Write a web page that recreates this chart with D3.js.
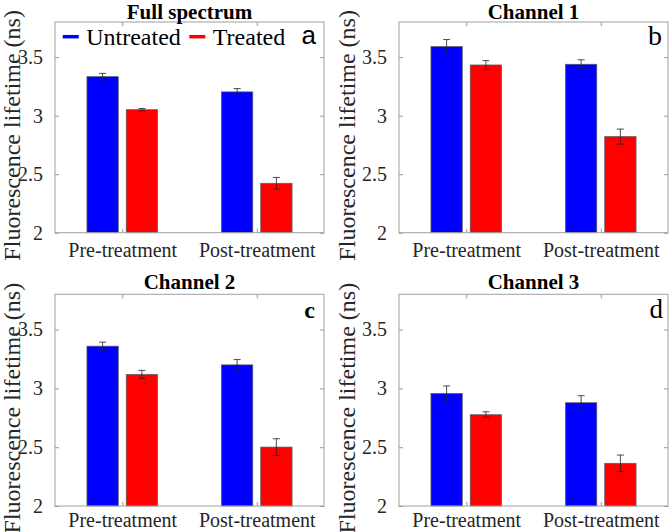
<!DOCTYPE html>
<html><head><meta charset="utf-8">
<script src="https://cdn.jsdelivr.net/npm/d3@7"></script>
<style>html,body{margin:0;padding:0;background:#fff;}svg{display:block;}</style>
</head><body>
<svg id="chart" width="669" height="532"></svg>
<script>
const categories = ["Pre-treatment", "Post-treatment"];
const seriesNames = ["Untreated", "Treated"];
const seriesColors = ["#0000ff", "#ff0000"];
const panelTitles = ["Full spectrum", "Channel 1", "Channel 2", "Channel 3"];
const panelLetters = ["a", "b", "c", "d"];
const untreatedMeans = [[3.333, 3.203], [3.590, 3.439], [3.359, 3.200], [2.957, 2.878]];
const treatedMeans   = [[3.051, 2.422], [3.433, 2.821], [3.119, 2.501], [2.776, 2.363]];
const untreatedErr   = [[0.028, 0.028], [0.060, 0.038], [0.034, 0.045], [0.064, 0.060]];
const treatedErr     = [[0.010, 0.050], [0.037, 0.064], [0.034, 0.071], [0.025, 0.070]];
const yTicks = [2, 2.5, 3, 3.5];
const yTickLabels = ["2", "2.5", "3", "3.5"];
const yLabel = "Fluorescence lifetime (ns)";

const serif = "'Liberation Serif','Times New Roman',serif";
const svg = d3.select("#chart");

// layout per panel (positions only)
const layout = [
  {l: 55, r: 324, t: 22, b: 232.7, ylabX: 12, titleY: 18.7, xPad: 10, letter: {x: 316, y: 44, size: 26, weight: "normal", family: "'Liberation Sans',Arial,sans-serif"}},
  {l: 399, r: 668, t: 22, b: 232.7, ylabX: 347, titleY: 18.7, xPad: 10, letter: {x: 662, y: 44.5, size: 28, weight: "normal", family: serif}},
  {l: 55, r: 324, t: 294.3, b: 506, ylabX: 12, titleY: 288.5, xPad: 7, letter: {x: 315, y: 317.5, size: 24, weight: "bold", family: serif}},
  {l: 399, r: 668, t: 294.3, b: 506, ylabX: 347, titleY: 288.5, xPad: 7, letter: {x: 663, y: 318, size: 27, weight: "normal", family: serif}}
];

const barW = 0.233, off = 0.146;

layout.forEach((L, p) => {
  const x = d3.scaleLinear().domain([0.5, 2.5]).range([L.l, L.r]);
  const y = d3.scaleLinear().domain([2, 3.8]).range([L.b, L.t]);
  const g = svg.append("g");

  g.append("rect").attr("x", L.l).attr("y", L.t).attr("width", L.r - L.l).attr("height", L.b - L.t)
    .attr("fill", "#fff").attr("stroke", "none");

  const means = [untreatedMeans[p], treatedMeans[p]];
  const errs = [untreatedErr[p], treatedErr[p]];
  seriesNames.forEach((s, si) => {
    const data = categories.map((c, ci) => ({ci, v: means[si][ci], e: errs[si][ci]}));
    const cx = d => (d.ci + 1) + (si === 0 ? -off : off);
    g.selectAll(null).data(data).enter().append("rect")
      .attr("x", d => x(cx(d) - barW / 2))
      .attr("width", d => x(cx(d) + barW / 2) - x(cx(d) - barW / 2))
      .attr("y", d => y(d.v))
      .attr("height", d => y(2) - y(d.v))
      .attr("fill", seriesColors[si])
      .attr("stroke", "#5a5a5a").attr("stroke-width", 0.7);
    const eg = g.selectAll(null).data(data).enter().append("g");
    eg.append("line").attr("x1", d => x(cx(d))).attr("x2", d => x(cx(d)))
      .attr("y1", d => y(d.v - d.e)).attr("y2", d => y(d.v + d.e))
      .attr("stroke", "#222").attr("stroke-width", 0.8);
    [-1, 1].forEach(sgn => {
      eg.append("line").attr("x1", d => x(cx(d)) - 3.5).attr("x2", d => x(cx(d)) + 3.5)
        .attr("y1", d => y(d.v + sgn * d.e)).attr("y2", d => y(d.v + sgn * d.e))
        .attr("stroke", "#222").attr("stroke-width", 0.8);
    });
  });

  const yAxisL = d3.axisLeft(y).tickValues(yTicks).tickFormat((d, i) => yTickLabels[i]).tickSizeInner(-4).tickSizeOuter(0).tickPadding(12);
  const ax = g.append("g").attr("transform", `translate(${L.l},0)`).call(yAxisL);
  ax.select(".domain").remove();
  ax.selectAll("line").attr("stroke", "#999");
  ax.selectAll("text").attr("font-family", serif).attr("font-size", 20).attr("fill", "#262626").attr("dy", "0.32em");

  const yAxisR = d3.axisRight(y).tickValues(yTicks).tickFormat("").tickSizeInner(-4).tickSizeOuter(0);
  const axr = g.append("g").attr("transform", `translate(${L.r},0)`).call(yAxisR);
  axr.select(".domain").remove();
  axr.selectAll("line").attr("stroke", "#999");

  const xAxisB = d3.axisBottom(x).tickValues([1, 2]).tickFormat((d, i) => categories[i]).tickSizeInner(-4).tickSizeOuter(0).tickPadding(L.xPad);
  const axb = g.append("g").attr("transform", `translate(0,${L.b})`).call(xAxisB);
  axb.select(".domain").remove();
  axb.selectAll("line").attr("stroke", "#999");
  axb.selectAll("text").attr("font-family", serif).attr("font-size", 20).attr("fill", "#262626").attr("dy", "0.71em");

  const xAxisT = d3.axisTop(x).tickValues([1, 2]).tickFormat("").tickSizeInner(-4).tickSizeOuter(0);
  const axt = g.append("g").attr("transform", `translate(0,${L.t})`).call(xAxisT);
  axt.select(".domain").remove();
  axt.selectAll("line").attr("stroke", "#999");

  g.append("rect").attr("x", L.l).attr("y", L.t).attr("width", L.r - L.l).attr("height", L.b - L.t)
    .attr("fill", "none").attr("stroke", "#a0a0a0").attr("stroke-width", 1);

  g.append("text").attr("x", (L.l + L.r) / 2).attr("y", L.titleY).attr("text-anchor", "middle")
    .attr("font-family", serif).attr("font-weight", "bold").attr("font-size", 21).attr("fill", "#000")
    .text(panelTitles[p]);

  g.append("text").attr("transform", `translate(${L.ylabX + 8},${(L.t + L.b) / 2 + 8}) rotate(-90)`)
    .attr("text-anchor", "middle").attr("font-family", serif).attr("font-size", 24).attr("fill", "#262626")
    .text(yLabel);

  g.append("text").attr("x", L.letter.x).attr("y", L.letter.y).attr("text-anchor", "end")
    .attr("font-family", L.letter.family).attr("font-weight", L.letter.weight).attr("font-size", L.letter.size)
    .attr("fill", "#000").text(panelLetters[p]);

  if (p === 0) {
    const legX = [62.7, 189.3];
    seriesNames.forEach((s, si) => {
      g.append("line").attr("x1", legX[si]).attr("x2", legX[si] + 16).attr("y1", 36.7).attr("y2", 36.7)
        .attr("stroke", seriesColors[si]).attr("stroke-width", 3.5);
      g.append("text").attr("x", legX[si] + 23.5).attr("y", 45).attr("font-family", serif).attr("font-size", 24)
        .attr("fill", "#000").text(s);
    });
  }
});
</script>
</body></html>
